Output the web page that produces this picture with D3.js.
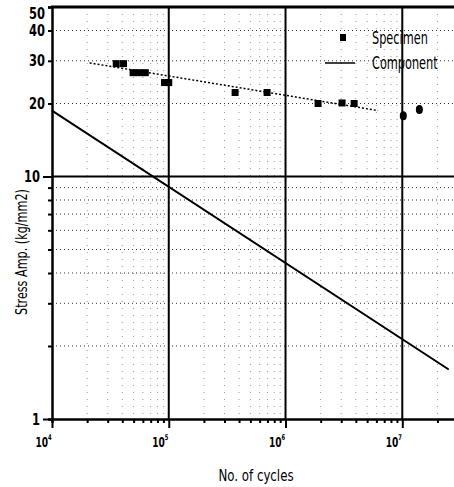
<!DOCTYPE html>
<html>
<head>
<meta charset="utf-8">
<script src="https://cdn.jsdelivr.net/npm/d3@7"></script>
<style>
body { margin: 0; background: #fff; }
text { font-family: "Liberation Sans Narrow", "DejaVu Sans Condensed", "Arial Narrow", sans-serif; fill: #000; }
</style>
</head>
<body>
<div id="chart"></div>
<script>
const width = 454;
const height = 487;
const narrow = "'Liberation Sans Narrow', 'DejaVu Sans Condensed', sans-serif";

// specimen test points (cycles, stress amplitude kg/mm2)
const specimenCycles = [3.55e4, 4.1e4, 4.95e4, 5.6e4, 6.3e4, 9.2e4, 1.0e5, 3.7e5, 6.95e5, 1.9e6, 3.05e6, 3.87e6];
const specimenStress = [29.2, 29.2, 26.8, 26.8, 26.8, 24.4, 24.4, 22.2, 22.2, 20.0, 20.1, 20.0];
// run-outs drawn as round dots
const runoutCycles = [1.02e7, 1.4e7];
const runoutStress = [17.8, 18.9];
// dotted specimen trend
const trendCycles = [2.1e4, 6.2e6];
const trendStress = [29.4, 18.7];
// component S-N line
const componentCycles = [1e4, 2.5e7];
const componentStress = [18.7, 1.6];

const yTickLabels = [1, 10, 20, 30, 40, 50];
const xTickExponents = [4, 5, 6, 7];
const legendLabels = ["Specimen", "Component"];

const x = d3.scaleLog().domain([1e4, 3e7]).range([52, 458]);
const y = d3.scaleLog().domain([1, 50]).range([419, 7]);

const svg = d3.select("#chart")
	.append("svg")
	.attr("width", width)
	.attr("height", height);

// minor grid values
var xMinor = [];
xTickExponents.forEach(function(k) {
	for (var m = 2; m <= 9; m++) {
		if (m * Math.pow(10, k) <= 3e7) xMinor.push(m * Math.pow(10, k));
	}
});
var yMinor = [2, 3, 4, 5, 6, 7, 8, 9, 20, 30, 40];

svg.append("g")
	.selectAll("line")
	.data(xMinor)
	.enter()
	.append("line")
	.attr("x1", d => x(d)).attr("x2", d => x(d))
	.attr("y1", y(50)).attr("y2", y(1))
	.attr("stroke", "#999")
	.attr("stroke-width", 1)
	.attr("stroke-dasharray", "1,6");

svg.append("g")
	.selectAll("line")
	.data(yMinor)
	.enter()
	.append("line")
	.attr("x1", x(1e4)).attr("x2", width)
	.attr("y1", d => y(d)).attr("y2", d => y(d))
	.attr("stroke", "#333")
	.attr("stroke-width", 1)
	.attr("stroke-dasharray", "1,3");

// heavy decade lines
svg.append("g")
	.selectAll("line")
	.data([1e5, 1e6, 1e7])
	.enter()
	.append("line")
	.attr("x1", d => x(d)).attr("x2", d => x(d))
	.attr("y1", y(50)).attr("y2", y(1))
	.attr("stroke", "#000")
	.attr("stroke-width", 2);

svg.append("line")
	.attr("x1", x(1e4)).attr("x2", width)
	.attr("y1", y(10)).attr("y2", y(10))
	.attr("stroke", "#000")
	.attr("stroke-width", 2);

svg.append("line")
	.attr("x1", x(1e4) - 1).attr("x2", width)
	.attr("y1", y(50)).attr("y2", y(50))
	.attr("stroke", "#000")
	.attr("stroke-width", 3);

// y axis
var yAxis = svg.append("g")
	.attr("transform", `translate(${x(1e4)},0)`)
	.call(d3.axisLeft(y)
		.tickValues(yMinor.concat([50]))
		.tickSize(4)
		.tickFormat(d => yTickLabels.includes(d) ? d : ""));
svg.append("g")
	.attr("transform", `translate(${x(1e4)},0)`)
	.call(d3.axisLeft(y).tickValues([1, 10]).tickSize(9).tickFormat(d => d))
	.select(".domain").remove();

svg.selectAll("g.tick text")
	.attr("font-size", 16)
	.attr("font-weight", "bold")
	.attr("font-family", narrow)
	.attr("fill", "#000")
	.filter(function() { return this.textContent.length > 0; })
	.attr("textLength", function() { return this.textContent.length * 8; })
	.attr("lengthAdjust", "spacingAndGlyphs");
yAxis.selectAll("g.tick text")
	.filter(d => d == 50)
	.attr("dy", "0.7em");
yAxis.select(".domain").attr("stroke-width", 2.5);
svg.selectAll("g.tick line").attr("stroke", "#000").attr("stroke-width", 2);

// x axis
var xAxis = svg.append("g")
	.attr("transform", `translate(0,${y(1)})`)
	.call(d3.axisBottom(x).tickValues(xMinor).tickSize(4).tickFormat(""));
xAxis.select(".domain").attr("stroke-width", 2.5);
xAxis.selectAll("line").attr("stroke", "#000").attr("stroke-width", 2);

var xMajor = svg.append("g")
	.attr("transform", `translate(0,${y(1)})`)
	.call(d3.axisBottom(x).tickValues(xTickExponents.map(k => Math.pow(10, k))).tickSize(9).tickFormat(""));
xMajor.select(".domain").remove();
xMajor.selectAll("line").attr("stroke", "#000").attr("stroke-width", 2);

var xLabels = xMajor.selectAll("g.tick")
	.append("text")
	.attr("transform", "translate(-9,28) scale(0.72,1)")
	.attr("font-size", 14)
	.attr("font-weight", "bold")
	.attr("font-family", narrow)
	.attr("fill", "#000")
	.text("10");
xLabels.append("tspan")
	.attr("dy", -7)
	.attr("font-size", 8)
	.text((d, i) => xTickExponents[i]);

// component line
svg.append("path")
	.datum(d3.zip(componentCycles, componentStress))
	.attr("d", d3.line().x(d => x(d[0])).y(d => y(d[1])))
	.attr("fill", "none")
	.attr("stroke", "#000")
	.attr("stroke-width", 2);

// specimen trend
svg.append("path")
	.datum(d3.zip(trendCycles, trendStress))
	.attr("d", d3.line().x(d => x(d[0])).y(d => y(d[1])))
	.attr("fill", "none")
	.attr("stroke", "#000")
	.attr("stroke-width", 1.5)
	.attr("stroke-dasharray", "2,2");

svg.append("g")
	.selectAll("rect")
	.data(d3.zip(specimenCycles, specimenStress))
	.enter()
	.append("rect")
	.attr("x", d => x(d[0]) - 3.5)
	.attr("y", d => y(d[1]) - 3.5)
	.attr("width", 7)
	.attr("height", 7)
	.attr("fill", "#000");

svg.append("g")
	.selectAll("ellipse")
	.data(d3.zip(runoutCycles, runoutStress))
	.enter()
	.append("ellipse")
	.attr("cx", d => x(d[0]))
	.attr("cy", d => y(d[1]))
	.attr("rx", 3.5)
	.attr("ry", 4.5)
	.attr("fill", "#000");

// legend
var legend = svg.append("g");
legend.append("rect")
	.attr("x", 340).attr("y", 34)
	.attr("width", 6).attr("height", 7)
	.attr("fill", "#000");
legend.append("line")
	.attr("x1", 325).attr("x2", 355)
	.attr("y1", 63).attr("y2", 63)
	.attr("stroke", "#000")
	.attr("stroke-width", 1.5);
legend.selectAll("text")
	.data(legendLabels)
	.enter()
	.append("text")
	.attr("transform", (d, i) => `translate(372,${44 + i * 25}) scale(0.74,1)`)
	.attr("font-size", 17)
	.attr("font-family", narrow)
	.text(d => d);

// axis titles
svg.append("text")
	.attr("transform", "translate(256,481) scale(0.82,1)")
	.attr("text-anchor", "middle")
	.attr("font-size", 16)
	.attr("font-family", narrow)
	.text("No. of cycles");

svg.append("text")
	.attr("transform", "translate(27,252) rotate(-90) scale(0.78,1)")
	.attr("text-anchor", "middle")
	.attr("font-size", 16)
	.attr("font-family", narrow)
	.text("Stress Amp. (kg/mm2)");
</script>
</body>
</html>
